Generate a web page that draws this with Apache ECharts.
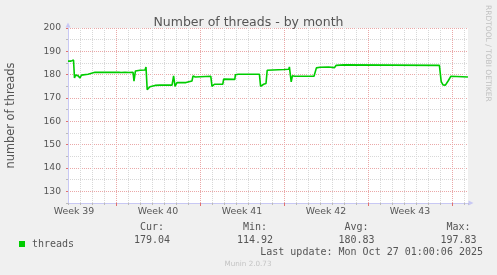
<!DOCTYPE html>
<html><head><meta charset="utf-8">
<script src="https://cdn.jsdelivr.net/npm/echarts@6/dist/echarts.min.js"></script>
<style>html,body{margin:0;padding:0;background:#f0f0f0}#c{width:497px;height:275px}</style>
</head><body><div id="c"></div>
<script>
// x values: days relative to the week boundary (Sunday 28 Sep 2025, 00:00)
const days = [-4.0,-3.75,-3.71,-3.54,-3.46,-3.38,-3.17,-3.0,-2.88,-2.33,-2.21,-1.75,-1.0,0.25,0.33,0.42,0.75,1.08,1.42,1.5,1.62,2.0,2.42,2.5,2.6,2.83,3.25,3.67,3.75,3.83,4.67,4.8,4.92,5.08,5.83,5.92,6.33,6.42,6.6,7.9,8.0,8.2,8.9,8.97,9.9,9.95,10.2,11.95,12.05,12.3,12.5,12.6,14.0,14.4,14.45,14.6,14.7,14.9,16.5,16.7,17.0,17.7,17.8,18.2,18.35,19.0,19.1,26.95,27.1,27.25,27.45,27.7,27.9,28.0,29.33];
const threads = [185.8,185.8,186.3,186.3,178.6,179.8,179.6,178.6,179.8,180.2,180.9,181.0,181.0,181.0,181.6,180.9,181.0,180.9,181.0,177.2,181.6,181.9,182.0,183.3,173.6,174.8,175.4,175.5,176.2,175.5,175.5,179.5,175.0,176.6,176.6,177.3,177.3,179.5,179.0,179.3,175.0,175.9,175.9,178.1,178.0,180.0,180.2,180.2,175.0,175.9,176.2,181.9,182.2,182.3,183.3,176.9,179.5,179.3,179.3,182.9,183.2,183.3,182.9,183.0,184.0,184.2,184.0,184.0,177.0,175.6,175.5,177.5,179.3,179.0,179.0];
const seriesName = 'threads';
const weekLabels = ['Week 39','Week 40','Week 41','Week 42','Week 43'];
const weekLabelDays = [-3.5, 3.5, 10.5, 17.5, 24.5];
const weekStartDays = [0, 7, 14, 21, 28];
const yMajorTicks = [130,140,150,160,170,180,190,200];
const statNames = ['Cur:','Min:','Avg:','Max:'];
const statValues = ['179.04','114.92','180.83','197.83'];
const lastUpdate = 'Last update: Mon Oct 27 01:00:06 2025';
const footer = 'Munin 2.0.73';
const sideText = 'RRDTOOL / TOBI OETIKER';

const X_MIN = -4, X_MAX = -4 + 400/12;
const GRAY = '#d8d8d8', RED = '#eaa8a8', AXIS = '#c8c8f4', TXT = '#555';
const SANS = 'DejaVu Sans', MONO = 'DejaVu Sans Mono';

const chart = echarts.init(document.getElementById('c'), null, {renderer:'canvas'});
const statX = [152, 255, 356.5, 458.5];
const graphics = [];
statNames.forEach((n,i)=>{
  graphics.push({type:'text', x:statX[i], y:227.5, style:{text:n, textAlign:'center', textVerticalAlign:'middle', font:'10px "'+MONO+'"', fill:TXT}});
  graphics.push({type:'text', x:statX[i], y:240, style:{text:statValues[i], textAlign:'center', textVerticalAlign:'middle', font:'10px "'+MONO+'"', fill:TXT}});
});
graphics.push({type:'text', x:483, y:252, style:{text:lastUpdate, textAlign:'right', textVerticalAlign:'middle', font:'10px "'+MONO+'"', fill:TXT}});
graphics.push({type:'text', x:248, y:264, style:{text:footer, textAlign:'center', textVerticalAlign:'middle', font:'7.2px "'+SANS+'"', fill:'#c4c4c4'}});
graphics.push({type:'text', x:488, y:5, rotation:-Math.PI/2, style:{text:sideText, textAlign:'left', textVerticalAlign:'middle', font:'7.5px "'+SANS+'"', fill:'#c0c0c0'}});

chart.setOption({
  animation:false,
  backgroundColor:'#f0f0f0',
  title:{text:'Number of threads - by month', left:'center', top:11, textStyle:{fontFamily:SANS, fontSize:12.5, fontWeight:'normal', color:TXT}},
  legend:{data:[{name:seriesName, icon:'rect'}], left:14, top:234, itemWidth:6, itemHeight:6, textStyle:{fontFamily:MONO, fontSize:10, color:TXT, padding:[0,0,0,2]}},
  grid:{left:68, top:28, width:400, height:175, show:true, backgroundColor:'#ffffff', borderWidth:0, containLabel:false, outerBoundsMode:'none'},
  xAxis:[
    {type:'value', position:'bottom', min:X_MIN, max:X_MAX, interval:1,
     axisLine:{show:true, onZero:false, lineStyle:{color:AXIS, width:1}, symbol:['none','triangle'], symbolSize:[5,5], symbolOffset:[0,3]},
     axisTick:{show:true, length:2, lineStyle:{color:'#bbbbbb'}},
     splitLine:{show:true, showMaxLine:false, lineStyle:{color:GRAY, type:[1,1], width:1}},
     axisLabel:{show:true, customValues:weekLabelDays, margin:4, fontFamily:SANS, fontSize:9.4, color:TXT,
       formatter:v=>{const i=weekLabelDays.indexOf(v); return i>=0?weekLabels[i]:'';}}},
    {type:'value', position:'bottom', min:X_MIN, max:X_MAX,
     axisLine:{show:false, onZero:false},
     axisTick:{show:true, customValues:weekStartDays, length:3, lineStyle:{color:'#e07070'}},
     splitLine:{show:true, lineStyle:{color:RED, type:[1,1], width:1}},
     axisLabel:{show:false}}
  ],
  yAxis:[
    {type:'value', position:'left', min:125, max:200, interval:5,
     name:'number of threads', nameLocation:'middle', nameRotate:90, nameGap:51,
     nameTextStyle:{fontFamily:SANS, fontSize:11.4, color:TXT},
     axisLine:{show:true, onZero:false, lineStyle:{color:AXIS, width:1}, symbol:['none','triangle'], symbolSize:[5,5], symbolOffset:[0,3]},
     axisTick:{show:true, length:2, lineStyle:{color:'#bbbbbb'}},
     splitLine:{show:true, lineStyle:{color:GRAY, type:[1,1], width:1}},
     axisLabel:{margin:7, fontFamily:SANS, fontSize:9.2, color:TXT, formatter:v=>(v%10===0?String(v):'')}},
    {type:'value', position:'left', min:125, max:200,
     axisLine:{show:false, onZero:false},
     axisTick:{show:true, customValues:yMajorTicks, length:2, lineStyle:{color:'#e07070'}},
     splitLine:{show:true, lineStyle:{color:RED, type:[1,1], width:1}},
     axisLabel:{show:false}}
  ],
  series:[{
    name:seriesName, type:'line', xAxisIndex:0, yAxisIndex:0,
    data:days.map((d,i)=>[d, threads[i]]),
    showSymbol:false, symbol:'none', silent:true,
    lineStyle:{color:'#00cc00', width:1.6}, itemStyle:{color:'#00cc00'}, z:5
  }],
  graphic:graphics
});
</script></body></html>
